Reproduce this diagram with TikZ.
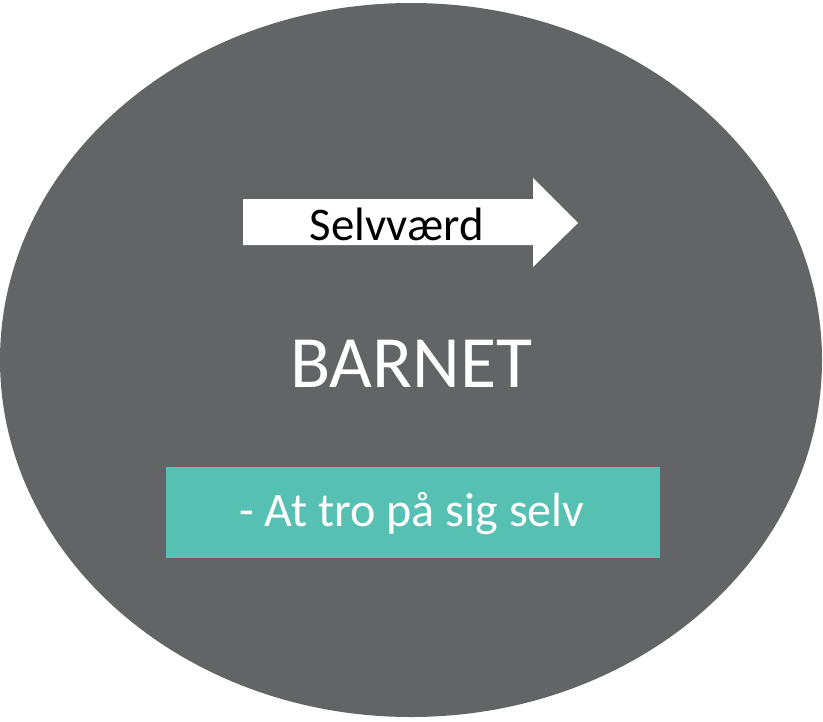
\documentclass[tikz,border=0pt]{standalone}
\usepackage{fontspec}
\setmainfont{Carlito}
\usepackage{xcolor}
\definecolor{ballgray}{HTML}{636466}
\definecolor{boxteal}{HTML}{56C1B3}
\usetikzlibrary{positioning}

\begin{document}
\begin{tikzpicture}[line cap=round,line join=round,x=0.03cm,y=-0.03cm]
    \useasboundingbox (0,0) rectangle (823,721);
    % the big grey ball
    \fill [ballgray] (411,360) ellipse (411 and 357);
    % white arrow
    \fill [white] (243,199) -- (533,199) -- (533,178) -- (578,223) -- (533,267) -- (533,245) -- (243,245) -- cycle;
    \node [text=black,font=\fontsize{40}{46}\selectfont] (selv) at (397,224) {Selvværd};
    % center word
    \node [text=white,font=\fontsize{63}{72}\selectfont] (barn) at (411,364) {BARNET};
    % teal box
    \fill [boxteal] (166,467) rectangle (660,558);
    \node [text=white,font=\fontsize{41}{46}\selectfont] (tro) at (412,514) {- At tro på sig selv};
\end{tikzpicture}
\end{document}
